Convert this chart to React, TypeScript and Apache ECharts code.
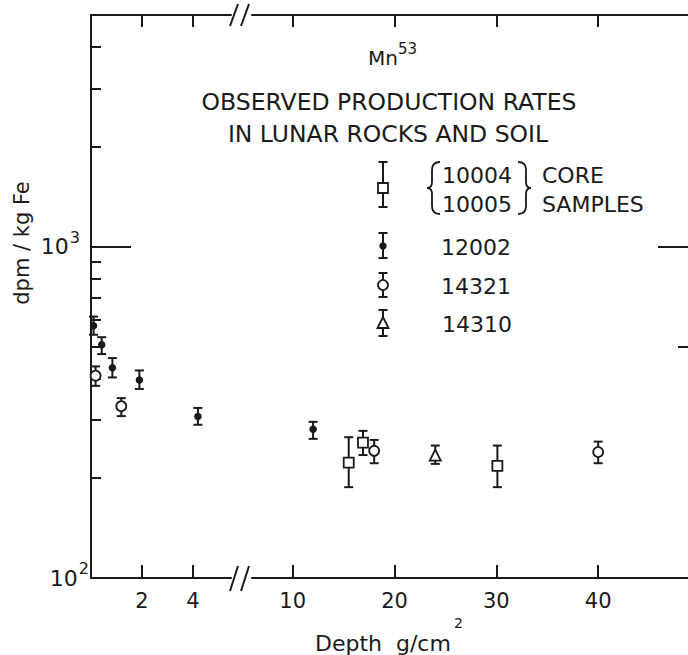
import React, { useEffect, useRef } from 'react';
import * as echarts from 'echarts';

const FONT = '"DejaVu Sans", sans-serif';
const INK = '#1a1a1a';

// each point: [depth g/cm2, dpm/kg Fe, error low, error high]
const s10004 = [
  [15.5, 223, 188, 266],
  [16.9, 256, 235, 278],
  [30.1, 218, 188, 251],
];
const s12002 = [
  [0.1, 577, 542, 615],
  [0.42, 506, 474, 533],
  [0.84, 431, 403, 461],
  [1.9, 396, 372, 423],
  [4.2, 307, 290, 326],
  [12.0, 281, 263, 296],
];
const s14321 = [
  [0.18, 408, 380, 435],
  [1.19, 330, 308, 349],
  [18.0, 242, 222, 261],
  [40.0, 240, 222, 258],
];
const s14310 = [[24.0, 235, 221, 251]];

const xTicksLeft = [2, 4];
const xTicksRight = [10, 20, 30, 40];
const xRangeLeft = [0, 5.5];
const xRangeRight = [6, 50];
const yRange = [100, 5000];
const yLabelTicks = [100, 1000];
const yMajorTicks = [1000];
const yMidTicks = [500];
const yMinorTicks = [200, 300, 400, 600, 700, 800, 900, 2000, 3000, 4000];

echarts.graphic.registerShape(
  'lbrace',
  echarts.graphic.extendPath('M13 0 Q5 0 5 8 L5 20 Q5 26 0 26 Q5 26 5 32 L5 44 Q5 52 13 52', {})
);
echarts.graphic.registerShape(
  'rbrace',
  echarts.graphic.extendPath('M0 0 Q8 0 8 8 L8 20 Q8 26 13 26 Q8 26 8 32 L8 44 Q8 52 0 52', {})
);

const lineStyle = { color: INK, width: 2 };

function xAxisDef(grid: number, pos: string, range: number[], ticks: number[], labels: boolean) {
  return {
    gridIndex: grid,
    type: 'value',
    position: pos,
    min: range[0],
    max: range[1],
    axisLine: { show: true, onZero: false, lineStyle },
    axisTick: { show: true, inside: true, length: pos === 'bottom' ? 13 : 12, customValues: ticks, lineStyle },
    axisLabel: labels
      ? { show: true, customValues: ticks, color: INK, fontSize: 21, fontFamily: FONT, margin: 12 }
      : { show: false },
    splitLine: { show: false },
  };
}

function yAxisDef(grid: number, pos: string, showLine: boolean, ticks: number[], len: number, labels: boolean) {
  const sup = { fontSize: 16, lineHeight: 16, fontFamily: FONT, color: INK, verticalAlign: 'bottom' };
  return {
    gridIndex: grid,
    type: 'log',
    logBase: 10,
    position: pos,
    min: yRange[0],
    max: yRange[1],
    axisLine: { show: showLine, onZero: false, lineStyle },
    axisTick: { show: true, inside: true, length: len, customValues: ticks, lineStyle },
    axisLabel: labels
      ? {
          show: true,
          customValues: yLabelTicks,
          margin: 2,
          formatter: (v: number) => {
            const e = v > 10 ? Math.round(Math.log10(v)) : Math.round(v);
            return e === 2 ? '{b|10}{s2|2}' : '{b|10}{s3|' + e + '}';
          },
          rich: {
            b: { fontSize: 22, lineHeight: 22, fontFamily: FONT, color: INK, verticalAlign: 'bottom' },
            s2: { ...sup, padding: [0, 0, 13, 1] },
            s3: { ...sup, padding: [0, 9, 12, 1] },
          },
        }
      : { show: false },
    splitLine: { show: false },
    minorTick: { show: false },
  };
}

const errorBarRender = (params: any, api: any) => {
  const x = api.value(0);
  const lo = api.coord([x, api.value(2)]);
  const hi = api.coord([x, api.value(3)]);
  const cw = 4.5;
  const st = { stroke: INK, lineWidth: 2 };
  return {
    type: 'group',
    children: [
      { type: 'line', shape: { x1: lo[0], y1: lo[1], x2: hi[0], y2: hi[1] }, style: st },
      { type: 'line', shape: { x1: lo[0] - cw, y1: lo[1], x2: lo[0] + cw, y2: lo[1] }, style: st },
      { type: 'line', shape: { x1: hi[0] - cw, y1: hi[1], x2: hi[0] + cw, y2: hi[1] }, style: st },
    ],
  };
};

const samples = [
  { name: '10004/10005', pts: s10004, symbol: 'rect', size: 10, filled: false },
  { name: '12002', pts: s12002, symbol: 'circle', size: 7.5, filled: true },
  { name: '14321', pts: s14321, symbol: 'circle', size: 10, filled: false },
  { name: '14310', pts: s14310, symbol: 'triangle', size: 11, filled: false },
];

function buildSeries() {
  const out: any[] = [];
  samples.forEach((s) => {
    [0, 1].forEach((side) => {
      const pts = s.pts.filter((p) => (side === 0 ? p[0] <= xRangeLeft[1] : p[0] >= xRangeRight[0]));
      if (!pts.length) return;
      const xi = side === 0 ? 0 : 2;
      const yi = side === 0 ? 0 : 2;
      out.push({
        type: 'custom',
        name: s.name,
        xAxisIndex: xi,
        yAxisIndex: yi,
        renderItem: errorBarRender,
        encode: { x: 0, y: 1 },
        data: pts,
        z: 2,
        silent: true,
      });
      out.push({
        type: 'scatter',
        name: s.name,
        xAxisIndex: xi,
        yAxisIndex: yi,
        symbol: s.symbol,
        symbolSize: s.size,
        data: pts.map((p) => [p[0], p[1]]),
        itemStyle: s.filled
          ? { color: INK, opacity: 1 }
          : { color: '#fff', borderColor: INK, borderWidth: 1.8, opacity: 1 },
        z: 3,
        silent: true,
      });
    });
  });
  return out;
}

function txt(text: string, x: number, y: number, size: number, align = 'left', extra: any = {}) {
  return {
    type: 'text',
    x,
    y,
    ...extra,
    style: {
      text,
      fill: INK,
      fontSize: size,
      fontFamily: FONT,
      align,
      textAlign: align,
      verticalAlign: 'middle',
      textVerticalAlign: 'middle',
    },
  };
}

function seg(x1: number, y1: number, x2: number, y2: number, w = 2) {
  return { type: 'line', shape: { x1, y1, x2, y2 }, style: { stroke: INK, lineWidth: w } };
}

function legendGlyph(cx: number, cy: number, lo: number, hi: number, kind: string) {
  const items: any[] = [seg(cx, lo, cx, hi), seg(cx - 4.5, lo, cx + 4.5, lo), seg(cx - 4.5, hi, cx + 4.5, hi)];
  const open = { fill: '#fff', stroke: INK, lineWidth: 1.8 };
  if (kind === 'square') items.push({ type: 'rect', shape: { x: cx - 5, y: cy - 5, width: 10, height: 10 }, style: open });
  if (kind === 'dot') items.push({ type: 'circle', shape: { cx, cy, r: 3.7 }, style: { fill: INK } });
  if (kind === 'circle') items.push({ type: 'circle', shape: { cx, cy, r: 5 }, style: open });
  if (kind === 'triangle')
    items.push({ type: 'polygon', shape: { points: [[cx, cy - 6], [cx - 5.5, cy + 5], [cx + 5.5, cy + 5]] }, style: open });
  return items;
}

function buildGraphic() {
  return [
    // axis breaks
    seg(230, 26, 238, 4),
    seg(241, 26, 249, 4),
    seg(230, 591, 238, 566),
    seg(241, 591, 249, 566),
    // titles
    txt('Mn', 368, 58, 20),
    txt('53', 398, 49, 15),
    txt('OBSERVED PRODUCTION RATES', 389, 102, 23.5, 'center'),
    txt('IN LUNAR ROCKS AND SOIL', 388, 134, 23.5, 'center'),
    // legend
    ...legendGlyph(383, 188, 162, 207, 'square'),
    ...legendGlyph(383, 246, 233, 258, 'dot'),
    ...legendGlyph(383, 285, 273, 297, 'circle'),
    ...legendGlyph(383, 323, 310, 336, 'triangle'),
    { type: 'lbrace', x: 427, y: 162, style: { stroke: INK, fill: 'none', lineWidth: 1.8 } },
    { type: 'rbrace', x: 518, y: 162, style: { stroke: INK, fill: 'none', lineWidth: 1.8 } },
    txt('10004', 442, 175, 22),
    txt('10005', 442, 204, 22),
    txt('CORE', 542, 175, 22),
    txt('SAMPLES', 542, 204, 22),
    txt('12002', 441, 247, 22),
    txt('14321', 441, 286, 22),
    txt('14310', 442, 324, 22),
    // axis names
    txt('Depth  g/cm', 315, 643, 22),
    txt('2', 454, 623, 14),
    txt('dpm / kg Fe', 22, 243, 21, 'center', { rotation: Math.PI / 2 }),
  ];
}

export default function App() {
  const ref = useRef<HTMLDivElement>(null);
  useEffect(() => {
    if (!ref.current) return;
    const chart = echarts.init(ref.current, undefined, { renderer: 'svg' });
    chart.setOption({
      animation: false,
      backgroundColor: '#fff',
      textStyle: { fontFamily: FONT, color: INK },
      grid: [
        { left: 91, top: 15, width: 140, height: 563 },
        { left: 252, top: 15, width: 448, height: 563 },
      ],
      xAxis: [
        xAxisDef(0, 'bottom', xRangeLeft, xTicksLeft, true),
        xAxisDef(0, 'top', xRangeLeft, xTicksLeft, false),
        xAxisDef(1, 'bottom', xRangeRight, xTicksRight, true),
        xAxisDef(1, 'top', xRangeRight, xTicksRight, false),
      ],
      yAxis: [
        yAxisDef(0, 'left', true, yMajorTicks, 40, true),
        yAxisDef(0, 'left', false, [...yMinorTicks, ...yMidTicks], 10, false),
        yAxisDef(1, 'right', true, yMajorTicks, 42, false),
        yAxisDef(1, 'right', false, yMidTicks, 22, false),
        yAxisDef(1, 'right', false, yMinorTicks, 12, false),
      ],
      series: buildSeries(),
      graphic: buildGraphic(),
    });
    return () => chart.dispose();
  }, []);
  return (
    <div
      style={{ position: 'absolute', left: 0, top: 0, width: 688, height: 655, overflow: 'hidden', background: '#fff' }}
    >
      <div ref={ref} style={{ width: 720, height: 655 }} />
    </div>
  );
}
